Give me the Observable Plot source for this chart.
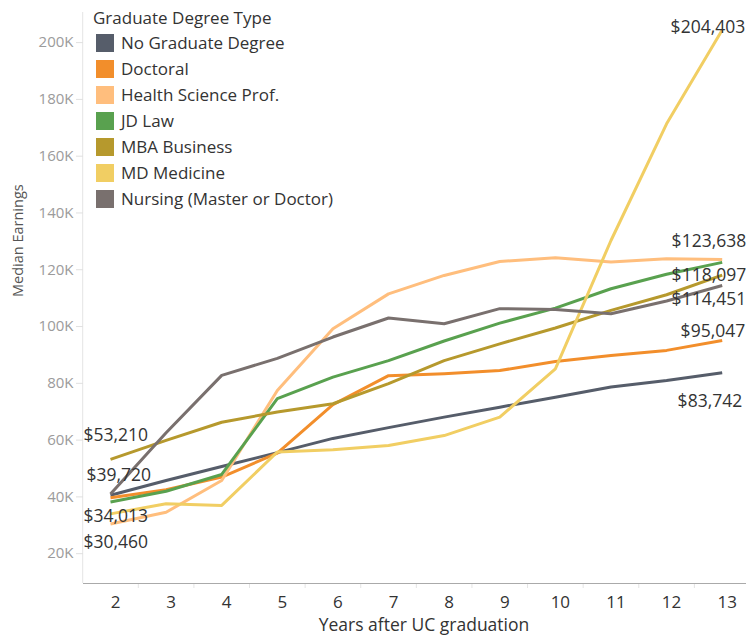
<!DOCTYPE html>
<html>
<head>
<meta charset="utf-8">
<script src="https://cdn.jsdelivr.net/npm/d3@7"></script>
<script src="https://cdn.jsdelivr.net/npm/@observablehq/plot@0.6"></script>
<style>
  html, body { margin: 0; padding: 0; background: #fff; }
  #wrap { position: relative; width: 746px; height: 638px; font-family: "Open Sans", sans-serif; }
  #legend { position: absolute; left: 0; top: 0; color: #333; }
  .lg-title { position: absolute; left: 93px; top: 6px; font-size: 17px; white-space: nowrap; }
  .lg-row { position: absolute; left: 96px; height: 18px; white-space: nowrap; }
  .lg-sw { position: absolute; left: 0; top: 0; width: 18px; height: 18px; }
  .lg-tx { position: absolute; left: 25px; top: -3px; font-size: 17px; line-height: 24px; }
</style>
</head>
<body>
<div id="wrap"><div id="chart"></div><div id="legend"></div></div>
<script>
// ---- data ----
const years = [2, 3, 4, 5, 6, 7, 8, 9, 10, 11, 12, 13];
const seriesNames = ["No Graduate Degree", "Doctoral", "Health Science Prof.", "JD Law", "MBA Business", "MD Medicine", "Nursing (Master or Doctor)"];
const seriesColors = ["#565d6a", "#f28e2b", "#ffbe7d", "#59a14f", "#b6992d", "#f1ce63", "#79706e"];
const noGradValues   = [40600, 45800, 50700, 55600, 60600, 64400, 68100, 71600, 75100, 78700, 81000, 83742];
const doctoralValues = [39720, 42500, 47000, 55400, 72500, 82700, 83400, 84500, 87700, 89800, 91600, 95047];
const healthValues   = [30460, 34600, 45800, 77500, 99200, 111500, 118000, 122900, 124200, 122700, 123900, 123638];
const jdValues       = [38200, 42000, 47900, 74600, 82200, 88000, 94900, 101200, 106500, 113300, 118400, 122600];
const mbaValues      = [53210, 59900, 66300, 69900, 72800, 79900, 88000, 93900, 99500, 105700, 111200, 118097];
const mdValues       = [34013, 37600, 37000, 55800, 56600, 58100, 61600, 68100, 85100, 130300, 171400, 204403];
const nursingValues  = [41000, 62600, 82800, 88800, 96300, 103000, 101000, 106300, 106000, 104500, 109000, 114451];
const yTickValues = [20000, 40000, 60000, 80000, 100000, 120000, 140000, 160000, 180000, 200000];
const startLabelSeries = ["MBA Business", "Doctoral", "MD Medicine", "Health Science Prof."];
const endLabelSeries = ["MD Medicine", "Health Science Prof.", "MBA Business", "Nursing (Master or Doctor)", "Doctoral", "No Graduate Degree"];

// ---- build table ----
const valueLists = [noGradValues, doctoralValues, healthValues, jdValues, mbaValues, mdValues, nursingValues];
const rows = [];
seriesNames.forEach((s, i) => years.forEach((yr, j) => rows.push({series: s, year: yr, value: valueLists[i][j]})));
const fmt = d3.format("$,");
const startRows = startLabelSeries.map(s => rows.find(r => r.series === s && r.year === years[0]));
const endRows = endLabelSeries.map(s => rows.find(r => r.series === s && r.year === years[years.length - 1]));

// label nudges (styling only)
const startNudge = {"MBA Business": [-27, -24], "Doctoral": [-24, -22], "MD Medicine": [-27, 2], "Health Science Prof.": [-27, 18]};
const endNudge = {"MD Medicine": [23, -3], "Health Science Prof.": [24, -18], "MBA Business": [24, 0], "Nursing (Master or Doctor)": [24, 14], "Doctoral": [23, -9], "No Graduate Degree": [20, 29]};

const yDomain = [9500, 210600];
const step = (721.7 - 110) / (years.length - 1);

const textMarks = [];
startRows.forEach(r => textMarks.push(Plot.text([r], {x: "year", y: "value", text: d => fmt(d.value), textAnchor: "start", dx: startNudge[r.series][0], dy: startNudge[r.series][1], fontSize: 17.5, fill: "#333"})));
endRows.forEach(r => textMarks.push(Plot.text([r], {x: "year", y: "value", text: d => fmt(d.value), textAnchor: "end", dx: endNudge[r.series][0], dy: endNudge[r.series][1], fontSize: 17.5, fill: "#333"})));

const chart = Plot.plot({
  width: 746,
  height: 638,
  marginTop: 12,
  marginBottom: 55,
  marginLeft: 83,
  marginRight: 0,
  style: {fontFamily: "Open Sans, sans-serif", background: "#fff", overflow: "visible"},
  x: {type: "point", domain: years, range: [110, 721.7], padding: 0, align: 0.5, round: false},
  y: {domain: yDomain},
  color: {domain: seriesNames, range: seriesColors},
  marks: [
    Plot.ruleX([years[0]], {dx: -step / 2, y1: yDomain[0], y2: yDomain[1], stroke: "#e4e4e4"}),
    Plot.ruleX(years.slice(1), {dx: -step / 2, y1: yDomain[0], y2: yDomain[0], insetBottom: -5, stroke: "#e4e4e4"}),
    Plot.ruleY([yDomain[0]], {stroke: "#aaa", strokeWidth: 1.2}),
    Plot.axisY({ticks: yTickValues, tickFormat: d => d / 1000 + "K", tickSize: 7, tickPadding: 3, stroke: "#e0e0e0", fill: "#9b9b9b", fontSize: 15, label: null}),
    Plot.axisX({tickSize: 0, tickPadding: 12, fontSize: 17, fill: "#333", dx: 5, label: null}),
    Plot.text(["Median Earnings"], {frameAnchor: "left", rotate: -90, dx: -65, dy: -1, fontSize: 14.5, fill: "#555"}),
    Plot.text(["Years after UC graduation"], {frameAnchor: "bottom", dx: 9, dy: 47, fontSize: 17.5, fill: "#333"}),
    Plot.line(rows, {x: "year", y: "value", z: "series", stroke: "series", strokeWidth: 3, strokeLinejoin: "round", strokeLinecap: "butt"}),
    ...textMarks
  ]
});
document.getElementById("chart").appendChild(chart);

// ---- legend ----
const legend = document.getElementById("legend");
const title = document.createElement("div");
title.className = "lg-title";
title.textContent = "Graduate Degree Type";
legend.appendChild(title);
seriesNames.forEach((s, i) => {
  const row = document.createElement("div");
  row.className = "lg-row";
  row.style.top = (34 + i * 26) + "px";
  const sw = document.createElement("div");
  sw.className = "lg-sw";
  sw.style.background = seriesColors[i];
  const tx = document.createElement("div");
  tx.className = "lg-tx";
  tx.textContent = s;
  row.appendChild(sw);
  row.appendChild(tx);
  legend.appendChild(row);
});
</script>
</body>
</html>
